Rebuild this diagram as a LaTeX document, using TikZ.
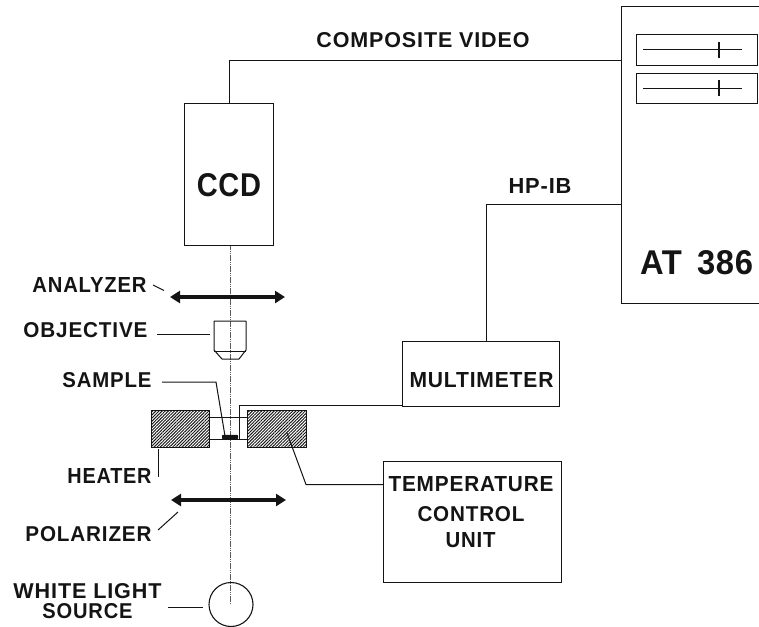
\documentclass[tikz,border=0pt]{standalone}
\usepackage{fontspec}
\setmainfont{Liberation Sans}[LetterSpace=4]
\newfontfamily\plainbold{Liberation Sans}[LetterSpace=2]
\usetikzlibrary{arrows.meta,patterns.meta,calc}
\definecolor{ink}{gray}{0.08}
\newcommand{\fitt}[3]{\resizebox{#1pt}{#2pt}{\fontsize{20}{20}\selectfont\bfseries #3}}
\newcommand{\fitb}[3]{\resizebox{#1pt}{#2pt}{\fontsize{30}{30}\selectfont\plainbold\bfseries #3}}
\tikzset{
  x=1pt,y=-1pt,
  lbl/.style={inner sep=0pt,text=ink},
  box/.style={draw=ink,line width=1.25pt,inner sep=0pt},
  wire/.style={draw=ink,line width=1pt},
  thinwire/.style={draw=ink,line width=1pt},
  axisline/.style={draw=ink!70,line width=0.8pt,dash pattern=on 1.5pt off 0.7pt},
  dblarrow/.style={draw=ink,line width=3.4pt,{Triangle[length=10pt,width=12pt]}-{Triangle[length=10pt,width=12pt]}},
  hatched/.style={draw=ink,line width=1.3pt,pattern={Lines[angle=45,distance=2.2pt,line width=0.95pt]},pattern color=ink,inner sep=0pt},
  slidertick/.style={draw=ink,line width=2.6pt},
}
\begin{document}
\begin{tikzpicture}
\useasboundingbox (0,0) rectangle (759,626);
% boxes
\node[box,minimum width=89pt,minimum height=142pt,anchor=north west] (ccd) at (184,103) {};
\node[lbl] (ccdt) at (229,185.5) {\fitb{64}{23}{CCD}};
\draw[wire] (621,7) coordinate (attl) -- (759,7) coordinate (attr);
\draw[wire] (621,303) coordinate (atbl) -- (759,303) coordinate (atbr);
\draw[wire] (attl) -- (atbl);
\node[lbl] (att) at (696.5,263) {\fitb{113}{24}{AT\hspace{5pt} 386}};
\node[box,minimum width=121pt,minimum height=31pt,anchor=north west] (s1) at (636,34) {};
\node[box,minimum width=121pt,minimum height=30pt,anchor=north west] (s2) at (636,73) {};
\coordinate (s1a) at (643,50); \coordinate (s1b) at (742,50); \coordinate (s1t) at (719,42); \coordinate (s1u) at (719,58);
\coordinate (s2a) at (643,88); \coordinate (s2b) at (742,88); \coordinate (s2t) at (719,80); \coordinate (s2u) at (719,96);
\draw[thinwire] (s1a) -- (s1b); \draw[slidertick] (s1t) -- (s1u);
\draw[thinwire] (s2a) -- (s2b); \draw[slidertick] (s2t) -- (s2u);
\node[box,minimum width=157pt,minimum height=65pt,anchor=north west] (mm) at (402,341) {};
\node[lbl] (mmt) at (481.5,380) {\fitt{144}{15}{MULTIMETER}};
\node[box,minimum width=178pt,minimum height=121pt,anchor=north west] (tcu) at (383,461) {};
\node[lbl] (tcua) at (471,484.5) {\fitt{165}{15}{TEMPERATURE}};
\node[lbl] (tcub) at (471,514.5) {\fitt{107}{15}{CONTROL}};
\node[lbl] (tcuc) at (470.5,540) {\fitt{50}{15}{UNIT}};
% video and HP-IB
\coordinate (vc) at (229,60);
\draw[wire] (ccd.north -| vc) -- (vc) -- (vc -| attl);
\node[lbl] (vt) at (423,40) {\fitt{213}{15}{COMPOSITE VIDEO}};
\coordinate (hc) at (486,204);
\draw[wire] (mm.north -| hc) -- (hc) -- (hc -| attl);
\node[lbl] (ht) at (540,185.5) {\fitt{63}{15}{HP-IB}};
% optical axis and source
\node[draw=ink,line width=1.1pt,circle,minimum size=44pt,inner sep=0pt] (lamp) at (231,604.5) {};
\coordinate (axb) at (230.5,604);
\draw[axisline] (ccd.south -| axb) -- (axb);
\draw[dblarrow] (170,297) coordinate (ana) -- (285,297) coordinate (anb);
\draw[dblarrow] (171,500) coordinate (poa) -- (286,500) coordinate (pob);
% objective
\draw[thinwire,line join=round] (214,321) coordinate (oa) -- (246,321) coordinate (ob) -- (246,350) -- (239,359) -- (222,359) -- (214,350) -- cycle;
\draw[thinwire] (214,351) -- (246,351);
% heater
\node[hatched,minimum width=58pt,minimum height=37pt,anchor=north west] (hl) at (151,410) {};
\node[hatched,minimum width=59pt,minimum height=37pt,anchor=north west] (hr) at (247,410) {};
\coordinate (y1) at (0,417); \coordinate (y2) at (0,439);
\draw[thinwire] (hl.east |- y1) -- (hr.west |- y1);
\draw[thinwire] (hl.east |- y2) -- (hr.west |- y2);
\node[fill=ink,minimum width=16pt,minimum height=4.5pt,inner sep=0pt,rounded corners=0.8pt] (samp) at (230,437) {};
\coordinate (mc) at (239,405.5);
\draw[thinwire] (mm.west |- mc) -- (mc) -- (239,439);
% labels and leaders
\node[lbl] (ant) at (89.5,284.5) {\fitt{114}{15}{ANALYZER}};
\node[lbl] (obt) at (85.5,330.5) {\fitt{124}{15}{OBJECTIVE}};
\node[lbl] (sat) at (107,380.5) {\fitt{89}{15}{SAMPLE}};
\node[lbl] (het) at (109.5,476) {\fitt{84}{15}{HEATER}};
\node[lbl] (pot) at (88.5,534) {\fitt{126}{15}{POLARIZER}};
\node[lbl] (wt) at (87.5,591.5) {\fitt{148}{15}{WHITE LIGHT}};
\node[lbl] (st) at (87.5,611) {\fitt{90}{15}{SOURCE}};
\draw[thinwire] (153,285) coordinate (l1) -- (164,290.5) coordinate (l2);
\draw[thinwire] (157,334) coordinate (l3) -- (210,334) coordinate (l4);
\draw[wire] (162,382) coordinate (l5) -- (216,382) coordinate (l6) -- (225,436) coordinate (l7);
\draw[thinwire] (158,449) coordinate (l8) -- (158,477) coordinate (l9);
\coordinate (l11) at (306,484.5);
\draw[thinwire] (287,433) coordinate (l10) -- (l11) -- (tcu.west |- l11);
\draw[thinwire] (158,530) coordinate (l12) -- (178,512) coordinate (l13);
\coordinate (l14) at (168,607);
\draw[thinwire] (l14) -- (203,607) coordinate (l15);
\end{tikzpicture}
\end{document}
